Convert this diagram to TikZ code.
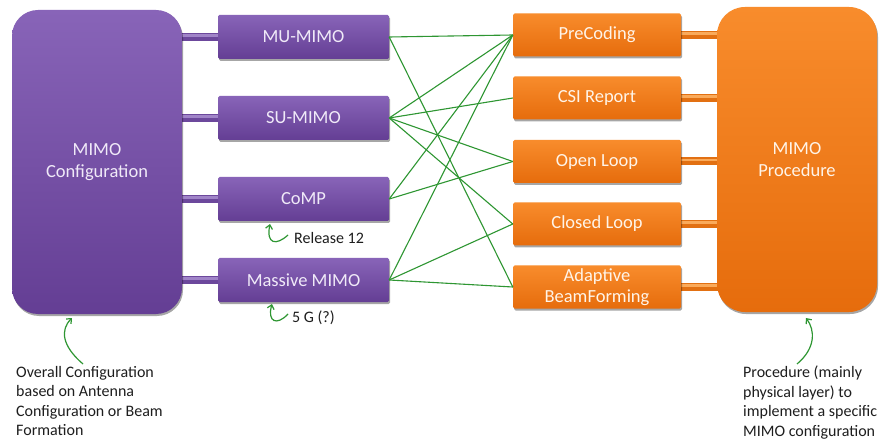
\documentclass[tikz,border=0pt]{standalone}
\usepackage{fontspec}
\setmainfont{Carlito}
\usetikzlibrary{arrows.meta,shadows}

\definecolor{purptop}{RGB}{136,100,184}
\definecolor{purpbot}{RGB}{100,62,148}
\definecolor{purptext}{RGB}{240,234,248}
\definecolor{purpbar}{RGB}{108,72,156}
\definecolor{purpbarlt}{RGB}{160,132,200}
\definecolor{orgtop}{RGB}{248,140,44}
\definecolor{orgbot}{RGB}{230,108,12}
\definecolor{orgtext}{RGB}{255,244,232}
\definecolor{orgbar}{RGB}{226,112,18}
\definecolor{orgbarlt}{RGB}{250,170,90}
\definecolor{linkgreen}{RGB}{46,150,50}
\definecolor{notegray}{RGB}{30,30,30}

\tikzset{
  boxshadow/.style={drop shadow={shadow xshift=1pt, shadow yshift=-2pt, opacity=0.35, fill=black}},
  boxlabel/.style={align=center, inner sep=0pt, font=\fontsize{18.5}{21.5}\selectfont},
  pbig/.style={boxlabel, rectangle, rounded corners=26pt, top color=purptop, bottom color=purpbot,
    text=purptext, minimum width=170pt, minimum height=304pt, boxshadow},
  obig/.style={boxlabel, rectangle, rounded corners=28pt, top color=orgtop, bottom color=orgbot,
    text=orgtext, minimum width=160pt, minimum height=305pt, boxshadow},
  pbox/.style={boxlabel, rectangle, rounded corners=1.5pt, top color=purptop, bottom color=purpbot,
    text=purptext, minimum width=171pt, minimum height=44pt, boxshadow},
  obox/.style={boxlabel, rectangle, rounded corners=1.5pt, top color=orgtop, bottom color=orgbot,
    text=orgtext, minimum width=168pt, minimum height=43pt, boxshadow},
  pbar/.style={draw=purpbar, line width=8pt},
  pbarlt/.style={draw=purpbarlt, line width=2.5pt},
  obar/.style={draw=orgbar, line width=8pt},
  obarlt/.style={draw=orgbarlt, line width=2.5pt},
  link/.style={draw=linkgreen, line width=1.1pt},
  note/.style={align=left, inner sep=0pt, text=notegray, font=\fontsize{16}{19.5}\selectfont},
  tag/.style={inner sep=0pt, text=notegray, font=\fontsize{16}{19}\selectfont},
  curlyarrow/.style={draw=linkgreen, line width=1.2pt, -{Straight Barb[length=4pt,width=7pt]}},
}

\begin{document}
\begin{tikzpicture}[x=1pt,y=-1pt]
  \useasboundingbox (0,0) rectangle (890,443);
  \fill[white] (0,0) rectangle (890,443);

  % connecting tubes (drawn first, under the boxes)
  \foreach \y in {37,118,199,280}{
    \draw[pbar] (178,\y) -- (222,\y);
    \draw[pbarlt] (178,\y-1.5) -- (222,\y-1.5);
  }
  \foreach \y in {35,98,161.5,224,287}{
    \draw[obar] (677,\y) -- (721,\y);
    \draw[obarlt] (677,\y-1.5) -- (721,\y-1.5);
  }

  % configuration side
  \node[pbig] (cfg) at (97,162) {MIMO\\Configuration};
  \node[pbox] (mu)  at (303.5,37)  {MU-MIMO};
  \node[pbox] (su)  at (303.5,118) {SU-MIMO};
  \node[pbox] (comp) at (303.5,199) {CoMP};
  \node[pbox] (mas) at (303.5,280) {Massive MIMO};

  % procedure side
  \node[obig] (proc) at (797,159.5) {MIMO\\Procedure};
  \node[obox] (pre) at (597,35)    {PreCoding};
  \node[obox] (csi) at (597,98)    {CSI Report};
  \node[obox] (ol)  at (597,161.5) {Open Loop};
  \node[obox] (cl)  at (597,224)   {Closed Loop};
  \node[obox] (abf) at (597,287)   {Adaptive\\BeamForming};

  % configuration-to-procedure links
  \draw[link] (mu.east) -- (pre.west);
  \draw[link] (mu.east) -- (abf.west);
  \draw[link] (su.east) -- (pre.west);
  \draw[link] (su.east) -- (csi.west);
  \draw[link] (su.east) -- (ol.west);
  \draw[link] (su.east) -- (cl.west);
  \draw[link] (comp.east) -- (pre.west);
  \draw[link] (comp.east) -- (ol.west);
  \draw[link] (mas.east) -- (pre.west);
  \draw[link] (mas.east) -- (cl.west);
  \draw[link] (mas.east) -- (abf.west);

  % release annotations
  \node[tag, anchor=west] (rel) at (294,238) {Release 12};
  \node[tag, anchor=west] (fiveg) at (292,318) {5 G (?)};
  \coordinate (relstart) at (288,235);
  \coordinate (reltip) at (270,224);
  \coordinate (fgstart) at (288,314);
  \coordinate (fgtip) at (272,304);
  \draw[curlyarrow] (relstart) .. controls (276,246) and (266,244) .. (reltip);
  \draw[curlyarrow] (fgstart) .. controls (277,326) and (267,322) .. (fgtip);

  % explanatory notes
  \node[note, anchor=north west] (cfgnote) at (16,366)
    {Overall Configuration\\based on Antenna\\Configuration or Beam\\Formation};
  \node[note, anchor=north west] (procnote) at (743,366)
    {Procedure (mainly\\physical layer) to\\implement a specific\\MIMO configuration};
  \coordinate (cfgfoot) at (83,364);
  \coordinate (cfgtip) at (72,318);
  \coordinate (procfoot) at (797,364);
  \coordinate (proctip) at (806,318);
  \draw[curlyarrow] (cfgfoot) .. controls (62,346) and (60,330) .. (cfgtip);
  \draw[curlyarrow] (procfoot) .. controls (816,348) and (815,330) .. (proctip);
\end{tikzpicture}
\end{document}
